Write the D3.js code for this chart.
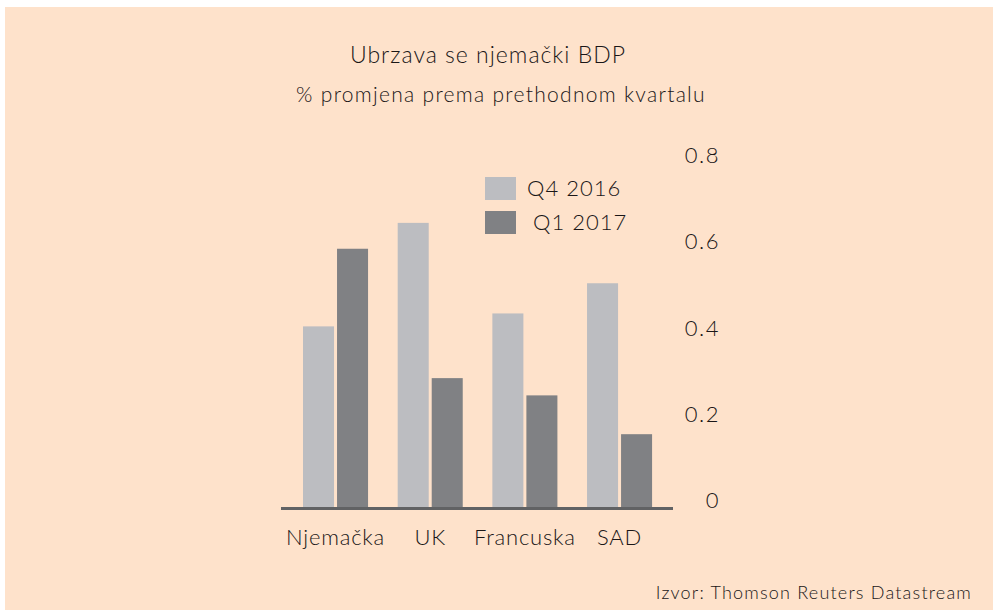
<!DOCTYPE html>
<html><head><meta charset="utf-8">
<script src="https://cdn.jsdelivr.net/npm/d3@7"></script>
<style>
html,body{margin:0;padding:0;background:#fff;}
svg{display:block;}
text{font-family:"Lato","Noto Sans",sans-serif;fill:#1a1617;font-weight:300;}
</style></head>
<body>
<svg id="chart" width="993" height="610"></svg>
<script>
const categories = ["Njemačka", "UK", "Francuska", "SAD"];
const seriesNames = ["Q4 2016", "Q1 2017"];
const q4_2016 = [0.42, 0.66, 0.45, 0.52];
const q1_2017 = [0.60, 0.30, 0.26, 0.17];
const yTicks = [0, 0.2, 0.4, 0.6, 0.8];
const yTickLabels = ["0", "0.2", "0.4", "0.6", "0.8"];
const colors = ["#bcbdc1", "#808184"];
const TEXT = "#1a1617";

const svg = d3.select("#chart");
svg.append("rect").attr("x", 5).attr("y", 7).attr("width", 988).attr("height", 603).attr("fill", "#fee2cb");

const x = d3.scaleBand().domain(categories).range([288.2, 666.9]).paddingInner(0.313).paddingOuter(0.1565);
const xs = d3.scaleBand().domain(seriesNames).range([0, x.bandwidth()]).paddingInner(0.088);
const y = d3.scaleLinear().domain([0, 0.8]).range([507.5, 162.5]);
const color = d3.scaleOrdinal().domain(seriesNames).range(colors);

const data = categories.map((c, i) => ({cat: c, vals: [
  {s: seriesNames[0], v: q4_2016[i]},
  {s: seriesNames[1], v: q1_2017[i]}
]}));

const g = svg.append("g").selectAll("g").data(data).join("g")
  .attr("transform", d => `translate(${x(d.cat)},0)`);
g.selectAll("rect").data(d => d.vals).join("rect")
  .attr("x", d => xs(d.s)).attr("width", xs.bandwidth())
  .attr("y", d => y(d.v)).attr("height", d => y(0) - y(d.v))
  .attr("fill", d => color(d.s));

// baseline
svg.append("line").attr("x1", 281).attr("x2", 673).attr("y1", y(0)+1).attr("y2", y(0)+1)
  .attr("stroke", "#616264").attr("stroke-width", 3);

const FONT = "Lato, 'Noto Sans', sans-serif";

// y axis labels (right side)
const yAxis = d3.axisRight(y).tickValues(yTicks).tickFormat((d, i) => yTickLabels[i]).tickSize(0);
const ya = svg.append("g").attr("transform", "translate(720,0)").call(yAxis);
ya.select(".domain").remove();
ya.selectAll("text").attr("x", 0).attr("dy", 0).attr("text-anchor", "end")
  .style("font-size", "22px").style("font-family", FONT).style("font-weight", 300)
  .style("letter-spacing", "1.5px").attr("fill", TEXT);

// x axis labels
const xAxis = d3.axisBottom(x).tickSize(0);
const xa = svg.append("g").attr("transform", `translate(0,${y(0)})`).call(xAxis);
xa.select(".domain").remove();
xa.selectAll("text").attr("y", 37).attr("dy", 0)
  .style("font-size", "22px").style("font-family", FONT).style("font-weight", 300)
  .style("letter-spacing", "0.8px").attr("fill", TEXT);

// legend
const leg = svg.append("g").attr("transform", "translate(485,177)");
seriesNames.forEach((s, i) => {
  leg.append("rect").attr("x", 0).attr("y", i*34).attr("width", 31).attr("height", 23).attr("fill", color(s));
  leg.append("text").attr("x", i === 0 ? 42 : 48).attr("y", i*34 + 19).style("font-size", "22px")
    .style("letter-spacing", "1px").text(s);
});

// titles
svg.append("text").attr("x", 488).attr("y", 63).attr("text-anchor", "middle").style("font-size", "23px")
  .style("letter-spacing", "1px").text("Ubrzava se njemački BDP");
svg.append("text").attr("x", 501).attr("y", 102).attr("text-anchor", "middle").style("font-size", "21px")
  .style("letter-spacing", "1.3px").text("% promjena prema prethodnom kvartalu");
svg.append("text").attr("x", 972).attr("y", 599).attr("text-anchor", "end").style("font-size", "18px")
  .style("letter-spacing", "1.2px").text("Izvor: Thomson Reuters Datastream");
</script>
</body></html>
